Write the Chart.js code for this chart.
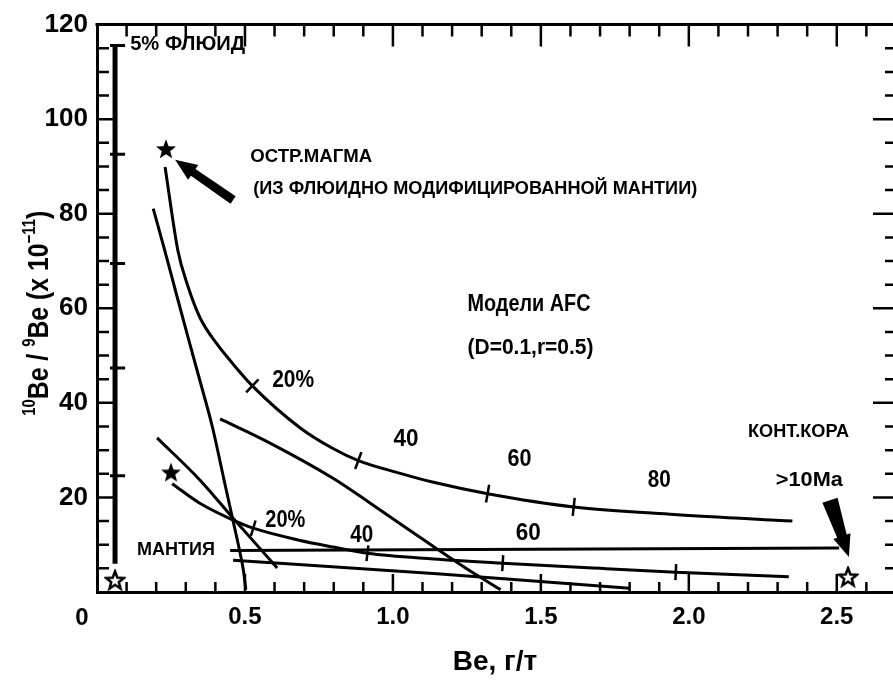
<!DOCTYPE html>
<html><head><meta charset="utf-8">
<script src="https://cdn.jsdelivr.net/npm/chart.js@4/dist/chart.umd.min.js"></script>
<style>
html,body{margin:0;padding:0;background:#fff;overflow:hidden;}
#wrap{position:relative;width:893px;height:683px;}
</style></head><body>
<div id="wrap"><canvas id="c" width="893" height="683"></canvas></div>
<script>
const FONT = "'Liberation Sans', Arial, sans-serif";

// ---- data (x = Be, g/t ; y = 10Be/9Be x 1e-11) ----
const xTickValues = [0, 0.5, 1.0, 1.5, 2.0, 2.5];
const yTickValues = [0, 20, 40, 60, 80, 100, 120];

// upper AFC curve (from the island-arc magma star)
const curveA_x = [0.230,0.274,0.305,0.349,0.406,0.460,0.525,0.687,0.799,0.883,1.025,1.137,1.320,1.611,1.950,2.350];
const curveA_y = [89.9,72.0,65.1,57.9,52.4,48.2,43.6,34.7,30.3,27.8,25.1,23.2,20.8,18.0,16.4,15.0];
// steep mixing line
const curveB_x = [0.190,0.230,0.270,0.310,0.350,0.390,0.430,0.460,0.480,0.495,0.503];
const curveB_y = [81.1,72.0,62.6,53.3,44.2,34.9,23.5,15.0,9.3,4.5,0.5];
// mixing line to the right
const curveC_x = [0.416,0.575,0.799,0.914,1.137,1.252,1.364];
const curveC_y = [36.6,31.8,24.0,19.2,9.6,4.8,0.5];
// short mixing line
const curveD_x = [0.203,0.349,0.460,0.609];
const curveD_y = [32.6,23.6,15.6,5.1];
// lower AFC curve
const curveE_x = [0.254,0.349,0.460,0.528,0.687,0.799,0.914,1.137,1.371,1.700,1.956,2.338];
const curveE_y = [22.9,18.7,15.2,13.5,10.9,9.5,8.2,7.0,6.1,5.0,4.2,3.2];
// lowest line
const curveF_x = [0.460,1.161,1.800];
const curveF_y = [6.7,3.8,0.8];
// mantle line
const mantle_x = [0.450,2.508];
const mantle_y = [8.8,9.3];
// 5% fluid column
const fluid_x = [0.061,0.061];
const fluid_y = [6.0,115.6];
const fluidMarks_y = [115.6,92.6,69.5,47.4,24.6];
// percentage marks on the AFC curves (x positions on the curves)
const marksA_x = [0.525,0.883,1.320,1.611];
const marksE_x = [0.528,0.914,1.371,1.956];
// stars
const filledStars_x = [0.233,0.250];
const filledStars_y = [93.7,25.3];
const openStars_x = [0.061,2.538];
const openStars_y = [2.5,3.2];

// ---- annotations (text / arrows), anchored in data units ----
const labels = [
  {t:'5% ФЛЮИД', x:0.112, y:116.2, w:115, s:20},
  {t:'ОСТР.МАГМА', x:0.518, y:92.4, w:122, s:18},
  {t:'(ИЗ ФЛЮИДНО МОДИФИЦИРОВАННОЙ МАНТИИ)', x:0.528, y:85.5, w:444, s:18},
  {t:'Модели AFC', x:1.252, y:61.1, w:123, s:23},
  {t:'(D=0.1,r=0.5)', x:1.252, y:52.0, w:126, s:22},
  {t:'20%', x:0.592, y:45.2, w:42, s:24},
  {t:'40', x:1.002, y:32.6, w:25, s:24},
  {t:'60', x:1.387, y:28.4, w:24, s:24},
  {t:'80', x:1.861, y:24.0, w:23, s:24},
  {t:'КОНТ.КОРА', x:2.200, y:34.1, w:101, s:18},
  {t:'>10Ma', x:2.294, y:24.0, w:67, s:21},
  {t:'20%', x:0.569, y:15.6, w:40, s:24},
  {t:'40', x:0.856, y:12.3, w:23, s:24},
  {t:'60', x:1.415, y:12.8, w:25, s:24},
  {t:'МАНТИЯ', x:0.135, y:9.3, w:78, s:18}
];
const arrows = [
  {x0:0.460, y0:82.9, x1:0.264, y1:91.4, head:22, wt:4.5, wb:4, wh:9},
  {x0:2.477, y0:19.4, x1:2.541, y1:7.4, head:22, wt:8, wb:5, wh:9}
];

const zip = (xs, ys) => xs.map((x, i) => ({x, y: ys[i]}));

function starCanvas(size, filled) {
  const c = document.createElement('canvas'); c.width = c.height = size;
  const g = c.getContext('2d');
  const R = size/2 - 1.5, r = R*0.42, cx = size/2, cy = size/2 + R*0.08;
  g.beginPath();
  for (let k = 0; k < 10; k++) {
    const a = -Math.PI/2 + k*Math.PI/5, rad = (k % 2) ? r : R;
    g.lineTo(cx + rad*Math.cos(a), cy + rad*Math.sin(a));
  }
  g.closePath();
  if (filled) { g.fillStyle = '#000'; g.fill(); }
  else { g.lineWidth = 2.5; g.strokeStyle = '#000'; g.lineJoin = 'miter'; g.stroke(); }
  return c;
}
const starFilled = starCanvas(24, true);
const starOpen = starCanvas(22, false);

function curveLine(data, w) {
  return {data, showLine:true, borderColor:'#000', borderWidth:w || 3, pointRadius:0,
    cubicInterpolationMode:'monotone', fill:false, borderCapStyle:'butt', spanGaps:false};
}

function perpRotation(cx, cy) {
  return (ctx) => {
    const chart = ctx.chart, xs = chart.scales.x, ys = chart.scales.y;
    const raw = ctx.raw; if (!raw) return 90;
    let i = cx.findIndex(v => Math.abs(v - raw.x) < 1e-9);
    if (i < 0) return 90;
    const a = Math.max(0, i-1), b = Math.min(cx.length-1, i+1);
    const dx = xs.getPixelForValue(cx[b]) - xs.getPixelForValue(cx[a]);
    const dy = ys.getPixelForValue(cy[b]) - ys.getPixelForValue(cy[a]);
    return Math.atan2(dy, dx)*180/Math.PI + 90;
  };
}
const onCurve = (mx, cx, cy) => mx.map(x => ({x, y: cy[cx.findIndex(v => Math.abs(v-x) < 1e-9)]}));

// fluid column cap + cross marks as short segments separated by gaps
const fluidMarksData = [];
fluidMarks_y.forEach(y => {
  fluidMarksData.push({x: fluid_x[0] - 0.017, y});
  fluidMarksData.push({x: fluid_x[0] + 0.034, y});
  fluidMarksData.push({x: fluid_x[0], y: null});
});

const decorPlugin = {
  id: 'decor',
  afterDatasetsDraw(chart) {
    const ctx = chart.ctx, xs = chart.scales.x, ys = chart.scales.y, A = chart.chartArea;
    ctx.save();
    ctx.strokeStyle = '#000'; ctx.fillStyle = '#000';
    // top frame (the right frame lies just outside the picture)
    ctx.lineWidth = 3;
    ctx.beginPath();
    ctx.moveTo(A.left - 1.5, A.top); ctx.lineTo(A.right + 2, A.top);
    ctx.stroke();
    // inward ticks
    ctx.lineWidth = 2.5;
    ctx.beginPath();
    for (let i = 1; i <= 26; i++) {
      const v = i/10, px = xs.getPixelForValue(v), major = i % 5 === 0;
      ctx.moveTo(px, A.bottom); ctx.lineTo(px, A.bottom - (major ? 18 : 10));
      ctx.moveTo(px, A.top); ctx.lineTo(px, A.top + (major ? 22 : 12));
    }
    for (let i = 1; i <= 23; i++) {
      const v = i*5, py = ys.getPixelForValue(v), major = v % 20 === 0;
      ctx.moveTo(A.left, py); ctx.lineTo(A.left + (major ? 16 : 12), py);
      ctx.moveTo(A.right + 2, py); ctx.lineTo(A.right - (major ? 20 : 8), py);
    }
    ctx.stroke();
    // arrows
    arrows.forEach(a => {
      const x0 = xs.getPixelForValue(a.x0), y0 = ys.getPixelForValue(a.y0);
      const x1 = xs.getPixelForValue(a.x1), y1 = ys.getPixelForValue(a.y1);
      const L = Math.hypot(x1-x0, y1-y0), ux = (x1-x0)/L, uy = (y1-y0)/L, nx = -uy, ny = ux;
      const bx = x1 - ux*a.head, by = y1 - uy*a.head;
      ctx.beginPath();
      ctx.moveTo(x0 + nx*a.wt, y0 + ny*a.wt);
      ctx.lineTo(bx + nx*a.wb, by + ny*a.wb);
      ctx.lineTo(bx + nx*a.wh, by + ny*a.wh);
      ctx.lineTo(x1, y1);
      ctx.lineTo(bx - nx*a.wh, by - ny*a.wh);
      ctx.lineTo(bx - nx*a.wb, by - ny*a.wb);
      ctx.lineTo(x0 - nx*a.wt, y0 - ny*a.wt);
      ctx.closePath(); ctx.fill();
    });
    // text labels
    labels.forEach(L => {
      ctx.save();
      ctx.font = `bold ${L.s}px ${FONT}`;
      const m = ctx.measureText(L.t).width;
      ctx.translate(xs.getPixelForValue(L.x), ys.getPixelForValue(L.y) + L.s*0.36);
      ctx.scale(L.w/m, 1);
      ctx.textAlign = 'left'; ctx.textBaseline = 'alphabetic';
      ctx.fillText(L.t, 0, 0);
      ctx.restore();
    });
    // "0" at the corner
    ctx.font = `bold 24px ${FONT}`;
    ctx.textAlign = 'center'; ctx.textBaseline = 'alphabetic';
    ctx.fillText('0', A.left - 15, A.bottom + 33);
    // y-axis title with superscripts
    const parts = [['10',1],['Be / ',0],['9',1],['Be (x 10',0],['\u221211',1],[')',0]];
    const mainF = `bold 30px ${FONT}`, supF = `bold 18px ${FONT}`;
    let total = 0;
    parts.forEach(p => { ctx.font = p[1] ? supF : mainF; total += ctx.measureText(p[0]).width; });
    const target = 205;
    ctx.save();
    ctx.translate(48, (A.top + A.bottom)/2 + 5);
    ctx.rotate(-Math.PI/2);
    ctx.scale(target/total, 1);
    let cx = -total/2;
    ctx.textAlign = 'left';
    parts.forEach(p => {
      ctx.font = p[1] ? supF : mainF;
      ctx.fillText(p[0], cx, p[1] ? -13 : 0);
      cx += ctx.measureText(p[0]).width;
    });
    ctx.restore();
    ctx.restore();
  }
};

new Chart(document.getElementById('c'), {
  type: 'scatter',
  data: {
    datasets: [
      curveLine(zip(curveA_x, curveA_y)),
      curveLine(zip(curveB_x, curveB_y)),
      curveLine(zip(curveC_x, curveC_y)),
      curveLine(zip(curveD_x, curveD_y)),
      curveLine(zip(curveE_x, curveE_y)),
      curveLine(zip(curveF_x, curveF_y)),
      curveLine(zip(mantle_x, mantle_y), 3),
      Object.assign(curveLine(zip(fluid_x, fluid_y), 5), {cubicInterpolationMode:'default', tension:0}),
      Object.assign(curveLine(fluidMarksData, 3), {cubicInterpolationMode:'default', tension:0}),
      {data: onCurve(marksA_x, curveA_x, curveA_y), showLine:false, pointStyle:'line', pointRadius:9,
       pointBorderWidth:2.5, pointBorderColor:'#000', pointRotation: perpRotation(curveA_x, curveA_y)},
      {data: onCurve(marksE_x, curveE_x, curveE_y), showLine:false, pointStyle:'line', pointRadius:8,
       pointBorderWidth:2.5, pointBorderColor:'#000', pointRotation: perpRotation(curveE_x, curveE_y)},
      {data: zip(filledStars_x, filledStars_y), showLine:false, pointStyle: starFilled, pointRadius:12},
      {data: zip(openStars_x, openStars_y), showLine:false, pointStyle: starOpen, pointRadius:11}
    ]
  },
  options: {
    responsive: false, devicePixelRatio: 1, animation: false,
    layout: {autoPadding: false, padding: {top: 22, right: 0, left: 0, bottom: 0}},
    plugins: {legend: {display: false}, tooltip: {enabled: false}},
    elements: {point: {hoverRadius: 0}},
    scales: {
      x: {
        type: 'linear', min: 0, max: 2.69,
        afterBuildTicks: s => { s.ticks = xTickValues.map(v => ({value: v})); },
        afterFit: s => { s.height = 91; },
        grid: {display: false, drawTicks: false},
        border: {display: true, color: '#000', width: 3},
        ticks: {color: '#000', padding: 11, maxRotation: 0, autoSkip: false,
          font: {family: FONT, size: 24, weight: 'bold'},
          callback: v => v === 0 ? '' : Number(v).toFixed(1)},
        title: {display: true, text: 'Be, г/т', color: '#000',
          font: {family: FONT, size: 28, weight: 'bold'}, padding: {top: 0, bottom: 4}}
      },
      y: {
        type: 'linear', min: 0, max: 120,
        afterBuildTicks: s => { s.ticks = yTickValues.map(v => ({value: v})); },
        afterFit: s => { s.width = 97; },
        grid: {display: false, drawTicks: false},
        border: {display: true, color: '#000', width: 3},
        ticks: {color: '#000', padding: 9, autoSkip: false,
          font: {family: FONT, size: 26, weight: 'bold'},
          callback: v => v === 0 ? '' : String(v)}
      }
    }
  },
  plugins: [decorPlugin]
});
</script>
</body></html>
